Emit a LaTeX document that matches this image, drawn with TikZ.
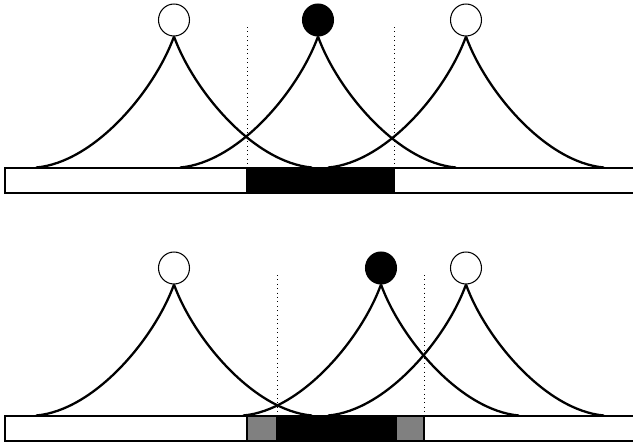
\documentclass[tikz,border=0pt]{standalone}
\usetikzlibrary{shapes.geometric}
\definecolor{midgray}{gray}{0.5}
\tikzset{%
  site/.style={ellipse, draw, line width=0.6pt, inner sep=0pt,
               minimum width=0.62cm, minimum height=0.64cm},
  tail/.style={line width=1.3pt},
  cut/.style={dotted, line width=0.5pt},
  bar/.style={draw, line width=0.6pt},
}

\begin{document}
\begin{tikzpicture}[x=0.02cm, y=-0.02cm]
    \useasboundingbox (0,0) rectangle (633,444);
    \clip (0,0) rectangle (633,444);

    % top row
    \node[site] (a1) at (174,20) {};
    \node[site, fill=black] (a2) at (318,20) {};
    \node[site] (a3) at (466,20) {};

    % bottom row
    \node[site] (b1) at (174,268) {};
    \node[site, fill=black] (b2) at (381,268) {};
    \node[site] (b3) at (466,268) {};

    % tails below every site
    \foreach \n in {a1,a2,a3,b1,b2,b3}{
      \draw[tail] (\n.south) .. controls +(-20,55) and +(58,-5) .. +(-138,131);
      \draw[tail] (\n.south) .. controls +(20,55) and +(-58,-5) .. +(138,131);
    }

    % top bar
    \draw[bar] (5,168) rectangle (640,193);
    \draw[bar, fill=black] (247,168) rectangle (394,193);

    % bottom bar
    \draw[bar] (5,416) rectangle (640,441);
    \draw[bar, fill=midgray] (247,416) rectangle (277,441);
    \draw[bar, fill=black] (277,416) rectangle (396,441);
    \draw[bar, fill=midgray] (396,416) rectangle (424,441);

    % cut lines
    \coordinate (t1) at (247,27);
    \coordinate (t2) at (394,27);
    \coordinate (u1) at (277,275);
    \coordinate (u2) at (424,275);
    \draw[cut] (t1) -- (t1 |- 0,168);
    \draw[cut] (t2) -- (t2 |- 0,168);
    \draw[cut] (u1) -- (u1 |- 0,416);
    \draw[cut] (u2) -- (u2 |- 0,416);
\end{tikzpicture}
\end{document}
